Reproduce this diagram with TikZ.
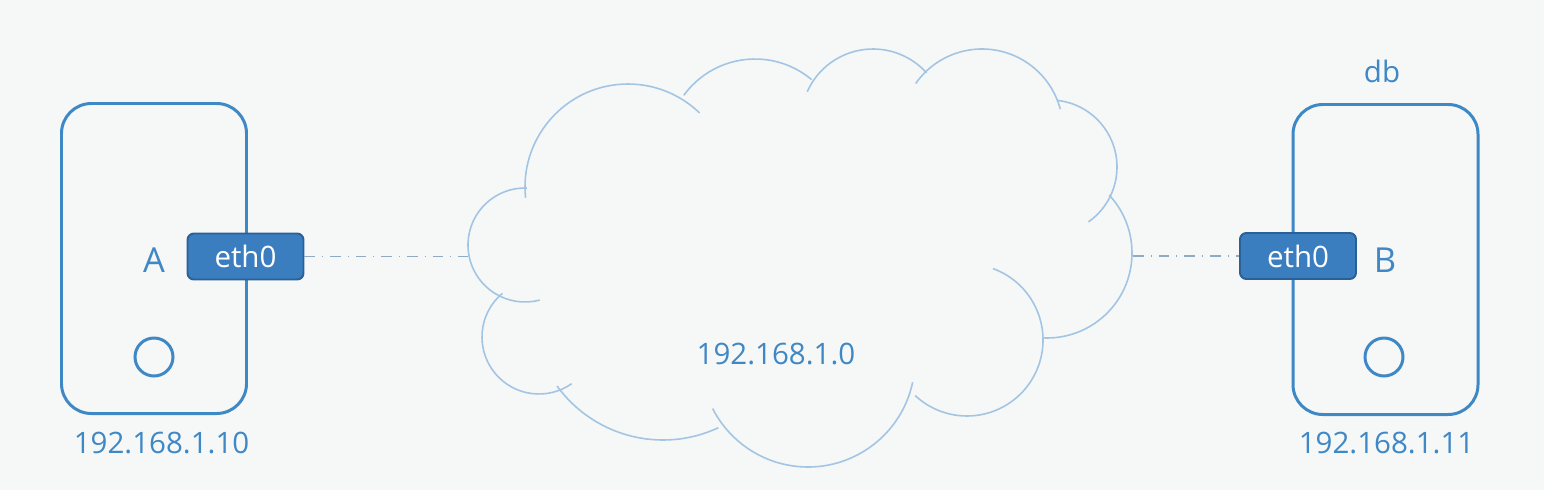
\documentclass[tikz,border=0pt]{standalone}
\usepackage{fontspec}
\setmainfont{Open Sans}
\usetikzlibrary{positioning}

\definecolor{bgcol}{HTML}{F6F7F7}
\definecolor{hostblue}{HTML}{3F88C6}
\definecolor{ethfill}{HTML}{3A7EC0}
\definecolor{ethline}{HTML}{2B6097}
\definecolor{cloudblue}{HTML}{A2C5E4}
\definecolor{linkgrey}{HTML}{8FAAC2}

\begin{document}
\begin{tikzpicture}[
    host/.style={draw=hostblue, line width=0.85pt, rounded corners=8.5pt,
      minimum width=1.85cm, minimum height=3.1cm},
    nic/.style={draw=ethline, fill=ethfill, line width=0.55pt, rounded corners=1.8pt,
      minimum width=1.16cm, minimum height=0.46cm, text=white, inner sep=0pt},
    lbl/.style={text=hostblue, inner sep=0pt, anchor=base},
    big/.style={font=\fontsize{9.8pt}{12pt}\selectfont},
    port/.style={draw=hostblue, line width=0.85pt, circle, minimum size=0.38cm, inner sep=0pt},
    link/.style={draw=linkgrey, line width=0.3pt, dash dot}]
  \fontsize{8.4pt}{10pt}\selectfont
  \useasboundingbox (0,0) rectangle (15.44,4.90);
  \fill[bgcol] (0,0) rectangle (15.44,4.90);

  % host A
  \node[host] (hostA) at (1.54,2.315) {};
  \node[port] (portA) at (1.54,1.33) {};
  \node[nic] (ethA) at (2.455,2.335) {eth0};
  \node[lbl,big] (nameA) at (1.54,2.18) {A};
  \node[lbl] (ipA) at (1.615,0.37) {192.168.1.10};

  % host B
  \node[host] (hostB) at (13.855,2.305) {};
  \node[port] (portB) at (13.84,1.33) {};
  \node[nic] (ethB) at (12.98,2.34) {eth0};
  \node[lbl,big] (nameB) at (13.85,2.18) {B};
  \node[lbl] (dbB) at (13.82,4.08) {db};
  \node[lbl] (ipB) at (13.865,0.37) {192.168.1.11};

  % network cloud
  \begin{scope}[draw=cloudblue, line width=0.45pt]
  \foreach \cx/\cy/\r/\a/\b in {5.25/2.45/0.57/88/285, 6.28/3.03/1.03/186/46,
      7.55/3.43/0.88/144/50, 8.73/3.69/0.72/156/42, 9.82/3.60/0.81/145/15,
      10.50/3.23/0.67/84/-55, 10.47/2.37/0.85/43/-93, 9.67/1.50/0.76/70/-133,
      8.08/1.30/1.07/-12/-153, 6.63/1.81/1.31/-65/-144, 5.39/1.53/0.57/130/305}
    \draw[cloudblue] (\cx,\cy) ++(\a:\r) arc[start angle=\a, end angle=\b, radius=\r];
  \end{scope}
  \node[lbl] (net) at (7.76,1.26) {192.168.1.0};
  \coordinate (cloudW) at (4.68,2.335);
  \coordinate (cloudE) at (11.33,2.34);

  \draw[link] (ethA.east) -- (cloudW);
  \draw[link] (cloudE) -- (ethB.west);
\end{tikzpicture}
\end{document}
